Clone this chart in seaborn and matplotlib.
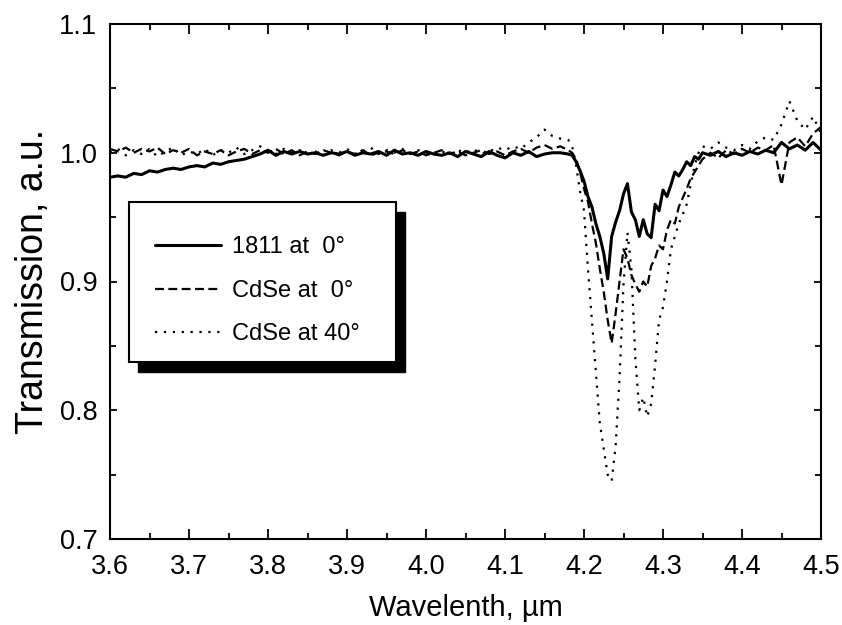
import numpy as np
import pandas as pd
import seaborn as sns
import matplotlib.pyplot as plt
from matplotlib.patches import Rectangle
from matplotlib.lines import Line2D
from matplotlib.ticker import MultipleLocator, FormatStrFormatter

# wavelength grid (um): coarse baseline, finer through the absorption dip
wavelength = [
    3.60, 3.61, 3.62, 3.63, 3.64, 3.65, 3.66, 3.67, 3.68, 3.69,
    3.70, 3.71, 3.72, 3.73, 3.74, 3.75, 3.76, 3.77, 3.78, 3.79,
    3.80, 3.81, 3.82, 3.83, 3.84, 3.85, 3.86, 3.87, 3.88, 3.89,
    3.90, 3.91, 3.92, 3.93, 3.94, 3.95, 3.96, 3.97, 3.98, 3.99,
    4.00, 4.01, 4.02, 4.03, 4.04, 4.05, 4.06, 4.07, 4.08, 4.09,
    4.10, 4.11, 4.12, 4.13, 4.14, 4.15, 4.16, 4.17, 4.18,
    4.185, 4.190, 4.195, 4.200, 4.205, 4.210, 4.215, 4.220, 4.225, 4.230,
    4.235, 4.240, 4.245, 4.250, 4.255, 4.260, 4.265, 4.270, 4.275, 4.280,
    4.285, 4.290, 4.295, 4.300, 4.305, 4.310, 4.315, 4.320, 4.325, 4.330,
    4.335, 4.340, 4.345, 4.350,
    4.36, 4.37, 4.38, 4.39, 4.40, 4.41, 4.42, 4.43, 4.44, 4.45,
    4.46, 4.47, 4.48, 4.49, 4.50,
]

t_1811_0 = [
    0.981, 0.982, 0.981, 0.984, 0.983, 0.986, 0.985, 0.987, 0.988, 0.987,
    0.989, 0.990, 0.989, 0.992, 0.991, 0.993, 0.994, 0.995, 0.997, 0.999,
    1.002, 0.998, 1.001, 0.999, 1.001, 0.999, 1.000, 0.998, 1.000, 0.999,
    1.001, 0.998, 1.000, 0.999, 1.001, 0.998, 1.002, 0.999, 1.000, 0.998,
    1.001, 0.999, 0.998, 1.000, 0.997, 1.001, 0.999, 0.997, 1.001, 0.998,
    0.996, 1.000, 0.998, 1.001, 0.997, 0.999, 1.000, 1.000, 0.999,
    0.998, 0.993, 0.986, 0.978, 0.966, 0.958, 0.945, 0.935, 0.922, 0.902,
    0.935, 0.946, 0.955, 0.968, 0.976, 0.954, 0.948, 0.935, 0.948, 0.937,
    0.934, 0.960, 0.955, 0.971, 0.966, 0.975, 0.985, 0.982, 0.987, 0.993,
    0.990, 0.997, 0.995, 1.000,
    0.998, 1.001, 0.997, 1.000, 0.998, 1.001, 0.999, 1.002, 1.000, 1.008,
    1.003, 1.006, 1.002, 1.008, 1.002,
]

t_cdse_0 = [
    1.003, 1.001, 1.004, 1.000, 1.003, 1.001, 1.004, 0.999, 1.002, 1.000,
    1.003, 0.998, 1.001, 0.999, 1.002, 0.998, 1.001, 1.003, 0.999, 1.002,
    1.000, 1.003, 0.999, 1.002, 0.998, 1.001, 0.999, 1.002, 1.000, 0.998,
    1.001, 0.999, 1.002, 0.998, 1.000, 1.001, 0.999, 1.002, 0.999, 1.001,
    0.998, 1.000, 1.002, 0.999, 1.001, 0.998, 1.000, 1.002, 0.999, 1.001,
    0.998, 1.001, 1.003, 1.000, 1.004, 1.006, 1.003, 1.005, 1.002,
    1.000, 0.995, 0.985, 0.972, 0.962, 0.945, 0.930, 0.910, 0.892, 0.870,
    0.852, 0.875, 0.900, 0.925, 0.918, 0.905, 0.898, 0.892, 0.900, 0.896,
    0.912, 0.918, 0.928, 0.925, 0.940, 0.948, 0.945, 0.958, 0.965, 0.972,
    0.980, 0.985, 0.990, 0.995,
    1.000, 0.996, 1.002, 0.999, 1.003, 1.000, 1.004, 1.002, 1.006, 0.975,
    1.008, 1.012, 1.005, 1.015, 1.020,
]

t_cdse_40 = [
    1.000, 1.003, 0.998, 1.002, 0.999, 1.003, 0.997, 1.001, 1.004, 0.998,
    1.001, 0.999, 1.003, 0.998, 1.002, 1.000, 1.004, 0.999, 1.002, 1.005,
    1.001, 0.999, 1.003, 1.000, 1.002, 0.999, 1.001, 0.998, 1.002, 1.000,
    1.003, 0.999, 1.001, 1.004, 0.999, 1.002, 1.000, 1.003, 0.999, 1.002,
    1.000, 0.998, 1.001, 0.999, 1.002, 1.000, 1.003, 0.999, 1.001, 1.004,
    1.002, 1.005, 1.003, 1.008, 1.012, 1.018, 1.013, 1.011, 1.010,
    1.005, 0.990, 0.970, 0.955, 0.910, 0.870, 0.830, 0.790, 0.770, 0.750,
    0.745, 0.772, 0.825, 0.898, 0.938, 0.910, 0.840, 0.800, 0.810, 0.795,
    0.805, 0.835, 0.870, 0.880, 0.900, 0.925, 0.935, 0.945, 0.952, 0.960,
    0.975, 0.990, 1.000, 1.005,
    1.003, 1.008, 1.004, 1.002, 1.006, 1.003, 1.009, 1.012, 1.010, 1.022,
    1.040, 1.025, 1.018, 1.028, 1.015,
]

labels = ["1811 at  0\u00b0", "CdSe at  0\u00b0", "CdSe at 40\u00b0"]
styles = ["-", (0, (4, 2)), (0, (1, 3))]
widths = [2.2, 1.6, 1.6]

df = pd.DataFrame({
    "wavelength": wavelength * 3,
    "transmission": t_1811_0 + t_cdse_0 + t_cdse_40,
    "sample": [labels[0]] * len(wavelength) + [labels[1]] * len(wavelength)
              + [labels[2]] * len(wavelength),
})

sns.set_style("ticks")
plt.rcParams["font.family"] = ["Liberation Sans", "DejaVu Sans"]
plt.rcParams.update({"text.color": "black", "axes.labelcolor": "black",
                     "xtick.color": "black", "ytick.color": "black"})

fig = plt.figure(figsize=(8.42, 6.25), dpi=100)
ax = fig.add_axes([110 / 842, 1 - 539 / 625, 711 / 842, 515 / 625])

for lab, ls, lw in zip(labels, styles, widths):
    sub = df[df["sample"] == lab]
    sns.lineplot(data=sub, x="wavelength", y="transmission", ax=ax, color="black",
                 linestyle=ls, linewidth=lw, estimator=None, sort=False, legend=False)

ax.set_xlim(3.6, 4.5)
ax.set_ylim(0.7, 1.1)
ax.xaxis.set_major_locator(MultipleLocator(0.1))
ax.xaxis.set_minor_locator(MultipleLocator(0.05))
ax.yaxis.set_major_locator(MultipleLocator(0.1))
ax.yaxis.set_minor_locator(MultipleLocator(0.05))
ax.xaxis.set_major_formatter(FormatStrFormatter("%.1f"))
ax.yaxis.set_major_formatter(FormatStrFormatter("%.1f"))
ax.tick_params(which="both", direction="in", top=True, right=True, width=1.3, colors="black")
ax.tick_params(axis="x", which="major", length=7, pad=11, labelsize=19.5)
ax.tick_params(axis="x", which="minor", length=4)
ax.tick_params(axis="y", which="major", length=5, pad=9, labelsize=19.5)
ax.tick_params(axis="y", which="minor", length=4)
for sp in ax.spines.values():
    sp.set_linewidth(1.5)
    sp.set_color("black")

ax.set_xlabel("Wavelenth, \u00b5m", fontsize=21, labelpad=10)
ax.set_ylabel("Transmission, a.u.", fontsize=27, labelpad=6)

# legend box with a solid drop shadow
bx, by, bw, bh = 0.0267, 0.3437, 0.3755, 0.3107
ax.add_patch(Rectangle((bx + 0.0127, by - 0.0194), bw, bh, transform=ax.transAxes,
                       facecolor="black", edgecolor="black", zorder=4))
ax.add_patch(Rectangle((bx, by), bw, bh, transform=ax.transAxes,
                       facecolor="white", edgecolor="black", linewidth=1.5, zorder=4.5))
handles = [Line2D([], [], color="black", linestyle=ls, linewidth=lw)
           for ls, lw in zip(styles, widths)]
leg = ax.legend(handles, labels, loc="center left", bbox_to_anchor=(0.0633, 0.482),
                frameon=False, borderpad=0, borderaxespad=0, handlelength=2.8,
                handletextpad=0.45, labelspacing=0.92, fontsize=17)
leg.set_zorder(5)

fig.savefig("out.png", dpi=100)
